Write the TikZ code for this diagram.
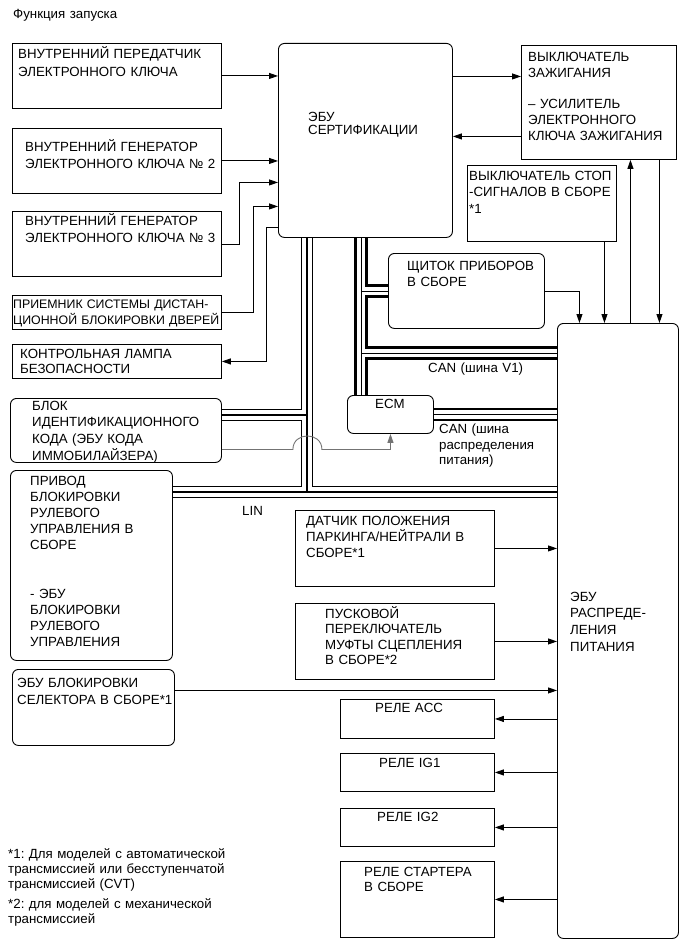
\documentclass[tikz,border=0pt]{standalone}
\usepackage{fontspec}
\setmainfont{Liberation Sans}
\frenchspacing
\usetikzlibrary{arrows.meta,backgrounds}

\tikzset{
    box/.style={draw, line width=0.9pt, anchor=north west, inner sep=0pt},
    rbox/.style={box, rounded corners=6pt},
    txt/.style={anchor=north west, inner sep=0pt, align=left,
                text width=280pt, text height=9.6pt,
                font=\fontsize{13.3pt}{#1}\selectfont},
    txt/.default=16pt,
    flow/.style={-{Triangle[length=9pt,width=6pt]}, line width=0.9pt},
    immo/.style={flow, draw=black!55},
}

\begin{document}
\begin{tikzpicture}[x=1pt, y=-1pt]
    \useasboundingbox (0,0) rectangle (690,952);

    \node[txt] (title) at (13,8.25) {Функция запуска};

    % left column
    \node[box, minimum width=209pt, minimum height=65pt,
          label={[txt=18pt, xshift=6pt, yshift=-5.25pt]north west:{ВНУТРЕННИЙ ПЕРЕДАТЧИК\\ЭЛЕКТРОННОГО КЛЮЧА}}]
          (key1) at (12,43) {};
    \node[box, minimum width=209pt, minimum height=65pt,
          label={[txt=17.3pt, xshift=13pt, yshift=-13.25pt]north west:{ВНУТРЕННИЙ ГЕНЕРАТОР\\ЭЛЕКТРОННОГО КЛЮЧА № 2}}]
          (gen2) at (12,128) {};
    \node[box, minimum width=209pt, minimum height=65pt,
          label={[txt=17.3pt, xshift=13pt, yshift=-4.25pt]north west:{ВНУТРЕННИЙ ГЕНЕРАТОР\\ЭЛЕКТРОННОГО КЛЮЧА № 3}}]
          (gen3) at (12,211) {};
    \node[box, minimum width=209pt, minimum height=34pt,
          label={[txt=16.3pt, font=\fontsize{12.35pt}{16.3pt}\selectfont, xshift=1pt, yshift=-3.25pt]north west:{ПРИЕМНИК СИСТЕМЫ ДИСТАН-\\ЦИОННОЙ БЛОКИРОВКИ ДВЕРЕЙ}}]
          (rcv) at (12,295) {};
    \node[box, minimum width=209pt, minimum height=34pt,
          label={[txt=15.6pt, xshift=8pt, yshift=-4.25pt]north west:{КОНТРОЛЬНАЯ ЛАМПА\\БЕЗОПАСНОСТИ}}]
          (lamp) at (12,344) {};
    \node[rbox, minimum width=211pt, minimum height=64pt,
          label={[txt=16.7pt, xshift=22pt, yshift=-2.25pt]north west:{БЛОК\\ИДЕНТИФИКАЦИОННОГО\\КОДА (ЭБУ КОДА\\ИММОБИЛАЙЗЕРА)}}]
          (blok) at (10,398) {};
    \node[rbox, minimum width=162pt, minimum height=190pt,
          label={[txt=16pt, xshift=20pt, yshift=-5.25pt]north west:{ПРИВОД\\БЛОКИРОВКИ\\РУЛЕВОГО\\УПРАВЛЕНИЯ В\\СБОРЕ\\[33pt]- ЭБУ\\БЛОКИРОВКИ\\РУЛЕВОГО\\УПРАВЛЕНИЯ}}]
          (privod) at (10,470) {};
    \node[rbox, minimum width=162pt, minimum height=76pt,
          label={[txt=17pt, xshift=5pt, yshift=-8.25pt]north west:{ЭБУ БЛОКИРОВКИ\\СЕЛЕКТОРА В СБОРЕ*1}}]
          (sel) at (12,669) {};

    % middle column
    \node[rbox, minimum width=174pt, minimum height=194pt,
          label={[txt=12.5pt, xshift=30pt, yshift=-68.75pt]north west:{ЭБУ\\СЕРТИФИКАЦИИ}}]
          (cert) at (278,43) {};
    \node[rbox, minimum width=156pt, minimum height=75pt,
          label={[txt=16.7pt, xshift=19pt, yshift=-7.25pt]north west:{ЩИТОК ПРИБОРОВ\\В СБОРЕ}}]
          (shchit) at (388,253) {};
    \node[rbox, minimum width=86pt, minimum height=38pt,
          label={[txt, xshift=28pt, yshift=-3.25pt]north west:{ECM}}]
          (ecm) at (347,395) {};
    \node[box, minimum width=199pt, minimum height=76pt,
          label={[txt=16pt, xshift=11pt, yshift=-5.25pt]north west:{ДАТЧИК ПОЛОЖЕНИЯ\\ПАРКИНГА/НЕЙТРАЛИ В\\СБОРЕ*1}}]
          (dat) at (295,510) {};
    \node[box, minimum width=199pt, minimum height=76pt,
          label={[txt=15.6pt, xshift=30pt, yshift=-5.25pt]north west:{ПУСКОВОЙ\\ПЕРЕКЛЮЧАТЕЛЬ\\МУФТЫ СЦЕПЛЕНИЯ\\В СБОРЕ*2}}]
          (pusk) at (295,603) {};
    \node[box, minimum width=154pt, minimum height=39pt,
          label={[txt, xshift=35pt, yshift=-3.25pt]north west:{РЕЛЕ ACC}}]
          (acc) at (340,699) {};
    \node[box, minimum width=154pt, minimum height=38pt,
          label={[txt, xshift=39pt, yshift=-4.25pt]north west:{РЕЛЕ IG1}}]
          (ig1) at (340,753) {};
    \node[box, minimum width=154pt, minimum height=38pt,
          label={[txt, xshift=37pt, yshift=-3.25pt]north west:{РЕЛЕ IG2}}]
          (ig2) at (340,808) {};
    \node[box, minimum width=154pt, minimum height=76pt,
          label={[txt=15pt, xshift=24pt, yshift=-5.25pt]north west:{РЕЛЕ СТАРТЕРА\\В СБОРЕ}}]
          (start) at (340,861) {};

    % right column
    \node[box, minimum width=155pt, minimum height=114pt,
          label={[txt=16pt, xshift=7pt, yshift=-6.95pt]north west:{ВЫКЛЮЧАТЕЛЬ\\ЗАЖИГАНИЯ\\[14.6pt]– УСИЛИТЕЛЬ\\ЭЛЕКТРОННОГО\\КЛЮЧА ЗАЖИГАНИЯ}}]
          (ign) at (521,45) {};
    \node[box, minimum width=149pt, minimum height=76pt,
          label={[txt=16.5pt, xshift=2pt, yshift=-5.25pt]north west:{ВЫКЛЮЧАТЕЛЬ СТОП\\-СИГНАЛОВ В СБОРЕ\\{}*1}}]
          (stop) at (467,165) {};
    \node[rbox, minimum width=121pt, minimum height=615pt,
          label={[txt=16.7pt, xshift=13pt, yshift=-268.25pt]north west:{ЭБУ\\РАСПРЕДЕ-\\ЛЕНИЯ\\ПИТАНИЯ}}]
          (pd) at (557,323) {};

    % bus labels and notes
    \node[txt] (canv1) at (428,362.5) {CAN (шина V1)};
    \node[txt=15.8pt] (canpd) at (439,423.5) {CAN (шина\\распределения\\питания)};
    \node[txt] (linlbl) at (242,505.25) {LIN};
    \node[txt=15pt] (notes) at (8,848.5) {*1: Для моделей с автоматической\\трансмиссией или бесступенчатой\\трансмиссией (CVT)\\[5pt]*2: для моделей с механической\\трансмиссией};

    % buses
    \coordinate (lin) at (307,492);
    \coordinate (linblk) at (307,415);
    \coordinate (can) at (361,353);
    \begin{scope}[on background layer]
        \foreach \w/\col in {11.9pt/black, 10.1pt/white, 2.4pt/black}
            \draw[line width=\w, \col] (cert.south -| lin) -- (lin)
                (privod.east |- lin) -- (lin -| pd.west)
                (blok.east |- linblk) -- (linblk);
        \foreach \w/\col in {13.4pt/black, 8.6pt/white, 0.8pt/black}
            \draw[line width=\w, \col] (cert.south -| can) -- (ecm.north -| can)
                (can) -- (can -| pd.west)
                (shchit.west -| can) -- (shchit.west)
                (ecm.east) -- (ecm.east -| pd.west);
    \end{scope}

    % signals to the certification ECU
    \draw[flow] (key1.east) -- (key1.east -| cert.west);
    \draw[flow] (gen2.east) -- (gen2.east -| cert.west);
    \draw[flow] (gen3.east) -- ++(18,0) |- ([yshift=-42pt]cert.west);
    \draw[flow] (rcv.east) -- ++(32,0) |- ([yshift=-66pt]cert.west);
    \draw[flow] ([yshift=-87pt]cert.west) -- ++(-12,0) |- (lamp.east);
    \draw[immo] ([yshift=-19pt]blok.east) -- ++(71,0)
        .. controls +(0,-18) and +(0,-18) .. ++(29,0) -| (ecm.south);

    % ignition switch
    \coordinate (c-ign) at ([yshift=64pt]cert.east);
    \coordinate (ign-c) at ([yshift=-34pt]ign.west);
    \coordinate (pd-ign) at ([xshift=31.5pt]ign.south);
    \coordinate (ign-pd) at ([xshift=60.5pt]ign.south);
    \coordinate (stop-pd) at ([xshift=62.5pt]stop.south);
    \draw[flow] (c-ign) -- (c-ign -| ign.west);
    \draw[flow] (ign-c) -- (ign-c -| cert.east);
    \draw[flow] (pd-ign |- pd.north) -- (pd-ign);
    \draw[flow] (ign-pd) -- (ign-pd |- pd.north);
    \draw[flow] (stop-pd) -- (stop-pd |- pd.north);
    \draw[flow] (shchit.east) -| ([xshift=-38.5pt]pd.north);

    % power distribution ECU inputs and relays
    \coordinate (sel-pd) at ([yshift=17pt]sel.east);
    \draw[flow] (sel-pd) -- (sel-pd -| pd.west);
    \draw[flow] (dat.east) -- (dat.east -| pd.west);
    \draw[flow] (pusk.east) -- (pusk.east -| pd.west);
    \foreach \rel in {acc,ig1,ig2,start}
        \draw[flow] (\rel.east -| pd.west) -- (\rel.east);

\end{tikzpicture}
\end{document}
